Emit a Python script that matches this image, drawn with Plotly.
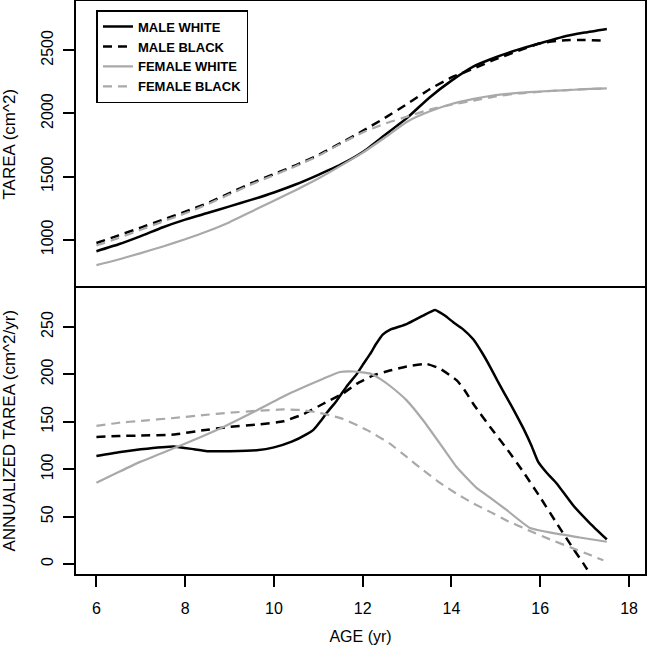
import plotly.graph_objects as go

# ---------------- data ----------------
age_grid = [6.0, 6.5, 7.0, 7.5, 8.0, 8.5, 9.0, 9.5, 10.0, 10.5, 11.0, 11.5,
            12.0, 12.5, 13.0, 13.5, 14.0, 14.5, 15.0, 15.5, 16.0, 16.5, 17.0, 17.5]

tarea_male_white = [910, 965, 1030, 1100, 1160, 1212, 1265, 1318, 1375, 1440, 1515, 1595,
                    1695, 1830, 1965, 2125, 2260, 2373, 2445, 2505, 2556, 2605, 2640, 2669]
tarea_male_black = [975, 1035, 1097, 1160, 1223, 1290, 1370, 1450, 1520, 1592, 1672, 1765,
                    1862, 1965, 2075, 2190, 2285, 2355, 2430, 2495, 2555, 2578, 2582, 2575]
tarea_female_white = [800, 845, 895, 948, 1005, 1068, 1140, 1225, 1310, 1395, 1485, 1585,
                      1690, 1810, 1935, 2015, 2075, 2115, 2145, 2163, 2174, 2183, 2192, 2199]
tarea_female_black = [955, 1015, 1080, 1145, 1210, 1280, 1360, 1440, 1512, 1585, 1665, 1760,
                      1850, 1920, 1975, 2030, 2070, 2102, 2135, 2158, 2172, 2183, 2192, 2199]

rate_mw_age = [6.0, 6.5, 7.0, 7.74, 8.2, 8.49, 9.0, 9.61, 10.0, 10.4, 10.74, 10.9, 11.04,
               11.2, 11.41, 11.65, 11.86, 12.0, 12.16, 12.3, 12.45, 12.61, 12.99, 13.36,
               13.63, 13.85, 14.04, 14.25, 14.49, 14.7, 14.87, 15.05, 15.24, 15.43, 15.62,
               15.8, 15.95, 16.15, 16.37, 16.74, 17.12, 17.5]
rate_mw_val = [114, 118, 121, 124, 121, 119, 119, 120, 123, 129, 137, 142, 150,
               160, 172, 188, 200, 210, 221, 232, 242, 247, 253, 262,
               268, 262, 255, 248, 237, 222, 208, 192, 176, 160, 143,
               125, 108, 96, 85, 62, 43, 26]

rate_mb_age = [6.0, 6.5, 7.0, 7.74, 8.4, 9.01, 9.6, 10.21, 10.66, 11.11, 11.56, 11.86,
               12.24, 12.61, 12.99, 13.44, 13.74, 14.12, 14.3, 14.49, 14.87, 15.24,
               15.62, 15.99, 16.37, 16.74, 16.97, 17.5]
rate_mb_val = [134, 135, 135.5, 136.5, 141, 144.6, 147, 150.5, 158, 169, 180, 190,
               199, 204, 208.4, 211, 206, 193.7, 183, 169, 144.6, 122,
               97, 71, 43, 16.5, 0.7, -38]

rate_fw_age = [6.0, 6.5, 7.0, 7.74, 8.3, 8.86, 9.61, 10.36, 11.11, 11.49, 11.8, 12.16,
               12.4, 12.61, 12.99, 13.36, 13.74, 14.12, 14.57, 14.87, 15.24, 15.77,
               16.37, 16.89, 17.5]
rate_fw_val = [85.6, 97, 108, 122, 133, 144.6, 162, 180, 195.5, 202.5, 203, 201,
               195, 188, 172.6, 151.6, 127, 102, 80, 70, 57, 38,
               32, 28, 23.5]

rate_fb_age = [6.0, 6.5, 7.0, 7.74, 8.4, 9.01, 9.6, 10.21, 10.6, 10.96, 11.25, 11.56,
               12.09, 12.61, 12.99, 13.36, 13.74, 14.12, 14.49, 14.87, 15.24, 15.69,
               16.22, 16.74, 17.1, 17.42]
rate_fb_val = [145.6, 149, 151, 154, 157, 159.6, 161.5, 163, 162.5, 160, 157, 153,
               141.5, 127, 113, 99, 85.6, 74, 64, 55, 46, 36.5,
               26, 16.5, 10, 4]

series_names = ["MALE WHITE", "MALE BLACK", "FEMALE WHITE", "FEMALE BLACK"]
x_ticks = [6, 8, 10, 12, 14, 16, 18]
top_ticks = [1000, 1500, 2000, 2500]
bottom_ticks = [0, 50, 100, 150, 200, 250]

# ---------------- styling ----------------
BLACK = "#000000"
GRAY = "#a9a9a9"
DASH = "9px,6px"
styles = [
    dict(color=BLACK, width=2.5, dash="solid"),
    dict(color=BLACK, width=2.5, dash=DASH),
    dict(color=GRAY, width=2.2, dash="solid"),
    dict(color=GRAY, width=2.2, dash=DASH),
]
FONT = "Liberation Sans, Arial, Helvetica, sans-serif"

fig = go.Figure()

top_series = [tarea_male_white, tarea_male_black, tarea_female_white, tarea_female_black]
for name, vals, st in zip(series_names, top_series, styles):
    fig.add_trace(go.Scatter(x=age_grid, y=vals, mode="lines", name=name,
                             line=dict(shape="spline", smoothing=0.5, **st),
                             xaxis="x", yaxis="y", showlegend=True))

bottom_series = [(rate_mw_age, rate_mw_val), (rate_mb_age, rate_mb_val),
                 (rate_fw_age, rate_fw_val), (rate_fb_age, rate_fb_val)]
for name, (ax, vals), st in zip(series_names, bottom_series, styles):
    fig.add_trace(go.Scatter(x=ax, y=vals, mode="lines", name=name,
                             line=dict(shape="spline", smoothing=0.4, **st),
                             xaxis="x2", yaxis="y2", showlegend=False))

line_common = dict(showline=True, linecolor=BLACK, linewidth=1.5,
                   showgrid=False, zeroline=False, automargin=False)

fig.update_layout(
    width=650, height=646,
    margin=dict(l=76, r=5, t=1, b=72, autoexpand=False),
    paper_bgcolor="white", plot_bgcolor="white",
    font=dict(family=FONT, color=BLACK, size=16),
    xaxis=dict(domain=[0, 1], range=[5.54, 18.36], anchor="y", side="top",
               mirror=False, showticklabels=False, ticks="", **line_common),
    yaxis=dict(domain=[0.5, 1], range=[623, 2890], anchor="x", mirror=True,
               tickvals=top_ticks, ticks="outside", ticklen=11, tickwidth=1.5,
               tickcolor=BLACK, tickangle=-90, ticklabelstandoff=4,
               tickfont=dict(size=16),
               title=dict(text="TAREA (cm^2)", font=dict(size=17), standoff=44),
               **line_common),
    xaxis2=dict(domain=[0, 1], range=[5.54, 18.36], anchor="y2", mirror=True,
                tickvals=x_ticks, ticks="outside", ticklen=11, tickwidth=1.5,
                tickcolor=BLACK, ticklabelstandoff=8, tickfont=dict(size=16),
                title=dict(text="AGE (yr)", font=dict(size=16), standoff=15),
                **line_common),
    yaxis2=dict(domain=[0, 0.5], range=[-10.5, 291.6], anchor="x2", mirror=True,
                tickvals=bottom_ticks, ticks="outside", ticklen=11, tickwidth=1.5,
                tickcolor=BLACK, tickangle=-90, ticklabelstandoff=4,
                tickfont=dict(size=16),
                title=dict(text="ANNUALIZED TAREA (cm^2/yr)", font=dict(size=17), standoff=44),
                **line_common),
    legend=dict(x=0.036, y=0.984, xanchor="left", yanchor="top",
                bgcolor="white", bordercolor=BLACK, borderwidth=1.5,
                font=dict(family=FONT, size=13, weight="bold"),
                tracegroupgap=0, itemwidth=30),
    showlegend=True,
)

fig.write_html("out.html", config={"displayModeBar": False},
               post_script="document.body.style.margin='0';document.body.style.padding='0';")
